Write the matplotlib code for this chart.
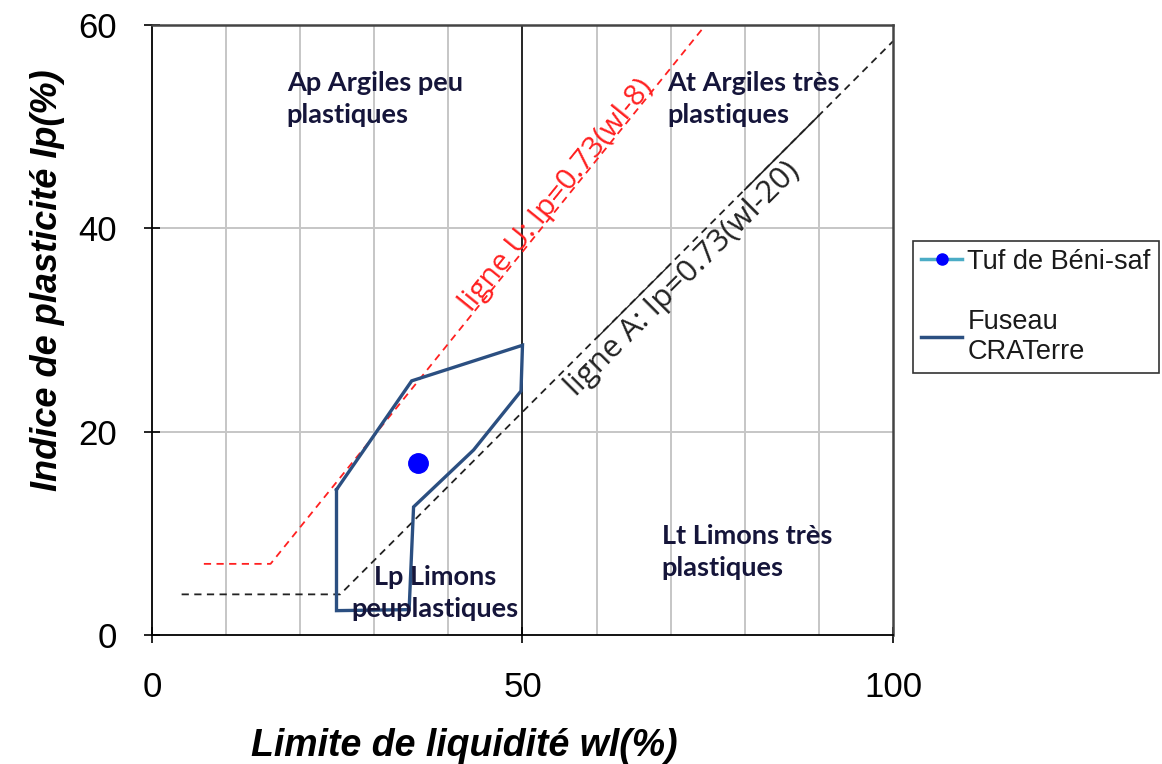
import numpy as np
import matplotlib.pyplot as plt
from matplotlib.lines import Line2D

# ligne U (rouge) et ligne A (noire)
wl_U = [7, 16, 74.7]
ip_U = [7, 7, 60]
wl_A = [4, 25.4, 100]
ip_A = [4, 4, 58.4]
# petits tronçons pleins sur la ligne A
wl_A_seg1 = [60, 70]
ip_A_seg1 = [29.2, 36.5]
wl_A_seg2 = [80, 90]
ip_A_seg2 = [43.8, 51.1]

# fuseau CRATerre
wl_fus = [24.9, 35.05, 50.0, 49.8, 43.4, 35.3, 34.7, 24.9, 24.9]
ip_fus = [14.3, 25.0, 28.5, 24.0, 18.2, 12.6, 2.5, 2.4, 14.3]

# Tuf de Beni-saf
wl_tuf = [35.9]
ip_tuf = [16.9]

plt.rcParams['font.family'] = ['Liberation Sans', 'DejaVu Sans']

fig = plt.figure(figsize=(11.62, 7.64), dpi=100)
ax = fig.add_axes([0.1308, 0.1688, 0.6377, 0.7985])

for x in range(10, 100, 10):
	if x == 50:
		continue
	ax.axvline(x, color='#c6c6c6', lw=1.4, zorder=0)
for y in [20, 40]:
	ax.axhline(y, color='#c6c6c6', lw=1.4, zorder=0)
ax.axvline(50, color='black', lw=1.2, zorder=1)

ax.plot(wl_U, ip_U, color='#ff2020', ls=(0, (4, 3)), lw=1.3)
ax.plot(wl_A, ip_A, color='#222222', ls=(0, (4, 3)), lw=1.3)
ax.plot(wl_A_seg1, ip_A_seg1, color='#222222', lw=1.0)
ax.plot(wl_A_seg2, ip_A_seg2, color='#222222', lw=1.2)

ax.plot(wl_fus, ip_fus, color='#2b4f81', lw=2.4, solid_joinstyle='miter')
ax.plot(wl_tuf, ip_tuf, 'o', color='#0000ff', markersize=14)

tc = '#15153a'
tf = dict(family=['Lato', 'DejaVu Sans'], fontsize=19.5, fontweight='bold', color=tc, linespacing=1.4)
ax.text(18.2, 55.5, 'Ap Argiles peu\nplastiques', ha='left', va='top', **tf)
ax.text(69.5, 55.5, 'At Argiles très\nplastiques', ha='left', va='top', **tf)
ax.text(68.8, 10.9, 'Lt Limons très\nplastiques', ha='left', va='top', **tf)
ax.text(38.2, 6.9, 'Lp Limons\npeuplastiques', ha='center', va='top', multialignment='center', **tf)

ax.text(54.6, 43.2, 'ligne U: Ip=0.73(wl-8)', color='#ff2020', fontsize=21.5,
	rotation=51, ha='center', va='center', rotation_mode='anchor',
	family=['Open Sans', 'DejaVu Sans'])
ax.text(71.6, 35.0, 'ligne A: Ip=0.73(wl-20)', color='#222222', fontsize=22.5,
	rotation=45, ha='center', va='center', rotation_mode='anchor',
	family=['Open Sans', 'DejaVu Sans'])

ax.set_xlim(0, 100)
ax.set_ylim(0, 60)
ax.set_xticks([0, 50, 100])
ax.set_yticks([0, 20, 40, 60])
ax.tick_params(axis='x', direction='inout', length=12, width=1.2, labelsize=25, pad=20)
ax.tick_params(axis='y', direction='inout', length=12, width=1.2, labelsize=25, pad=19)
for s in ['left', 'bottom']:
	ax.spines[s].set_color('black')
	ax.spines[s].set_linewidth(1.3)
for s in ['top', 'right']:
	ax.spines[s].set_color('#444444')
	ax.spines[s].set_linewidth(1.8)

ax.set_xlabel('Limite de liquidité wl(%)', fontsize=27, fontweight='bold', style='italic')
ax.xaxis.set_label_coords(0.422, -0.152)
ax.set_ylabel('Indice de plasticité Ip(%)', fontsize=26, fontweight='bold', style='italic')
ax.yaxis.set_label_coords(-0.117, 0.582)

handles = [
	Line2D([], [], color='#4bacc6', lw=2.5, marker='o', markerfacecolor='#0000ff',
		markeredgecolor='#0000ff', markersize=8),
	Line2D([], [], color='#2b4f81', lw=2.5),
]
leg = fig.legend(handles, ['Tuf de Béni-saf', 'Fuseau\nCRATerre'], loc='upper left',
	bbox_to_anchor=(0.786, 0.685), fontsize=19.5, frameon=True, fancybox=False,
	handlelength=1.5, handletextpad=0.2, labelspacing=1.25, borderpad=0.3, borderaxespad=0)
leg.get_frame().set_edgecolor('black')
leg.get_frame().set_linewidth(1.2)
for t in leg.get_texts():
	t.set_color('#1a1a1a')

fig.savefig('out.png', dpi=100)
